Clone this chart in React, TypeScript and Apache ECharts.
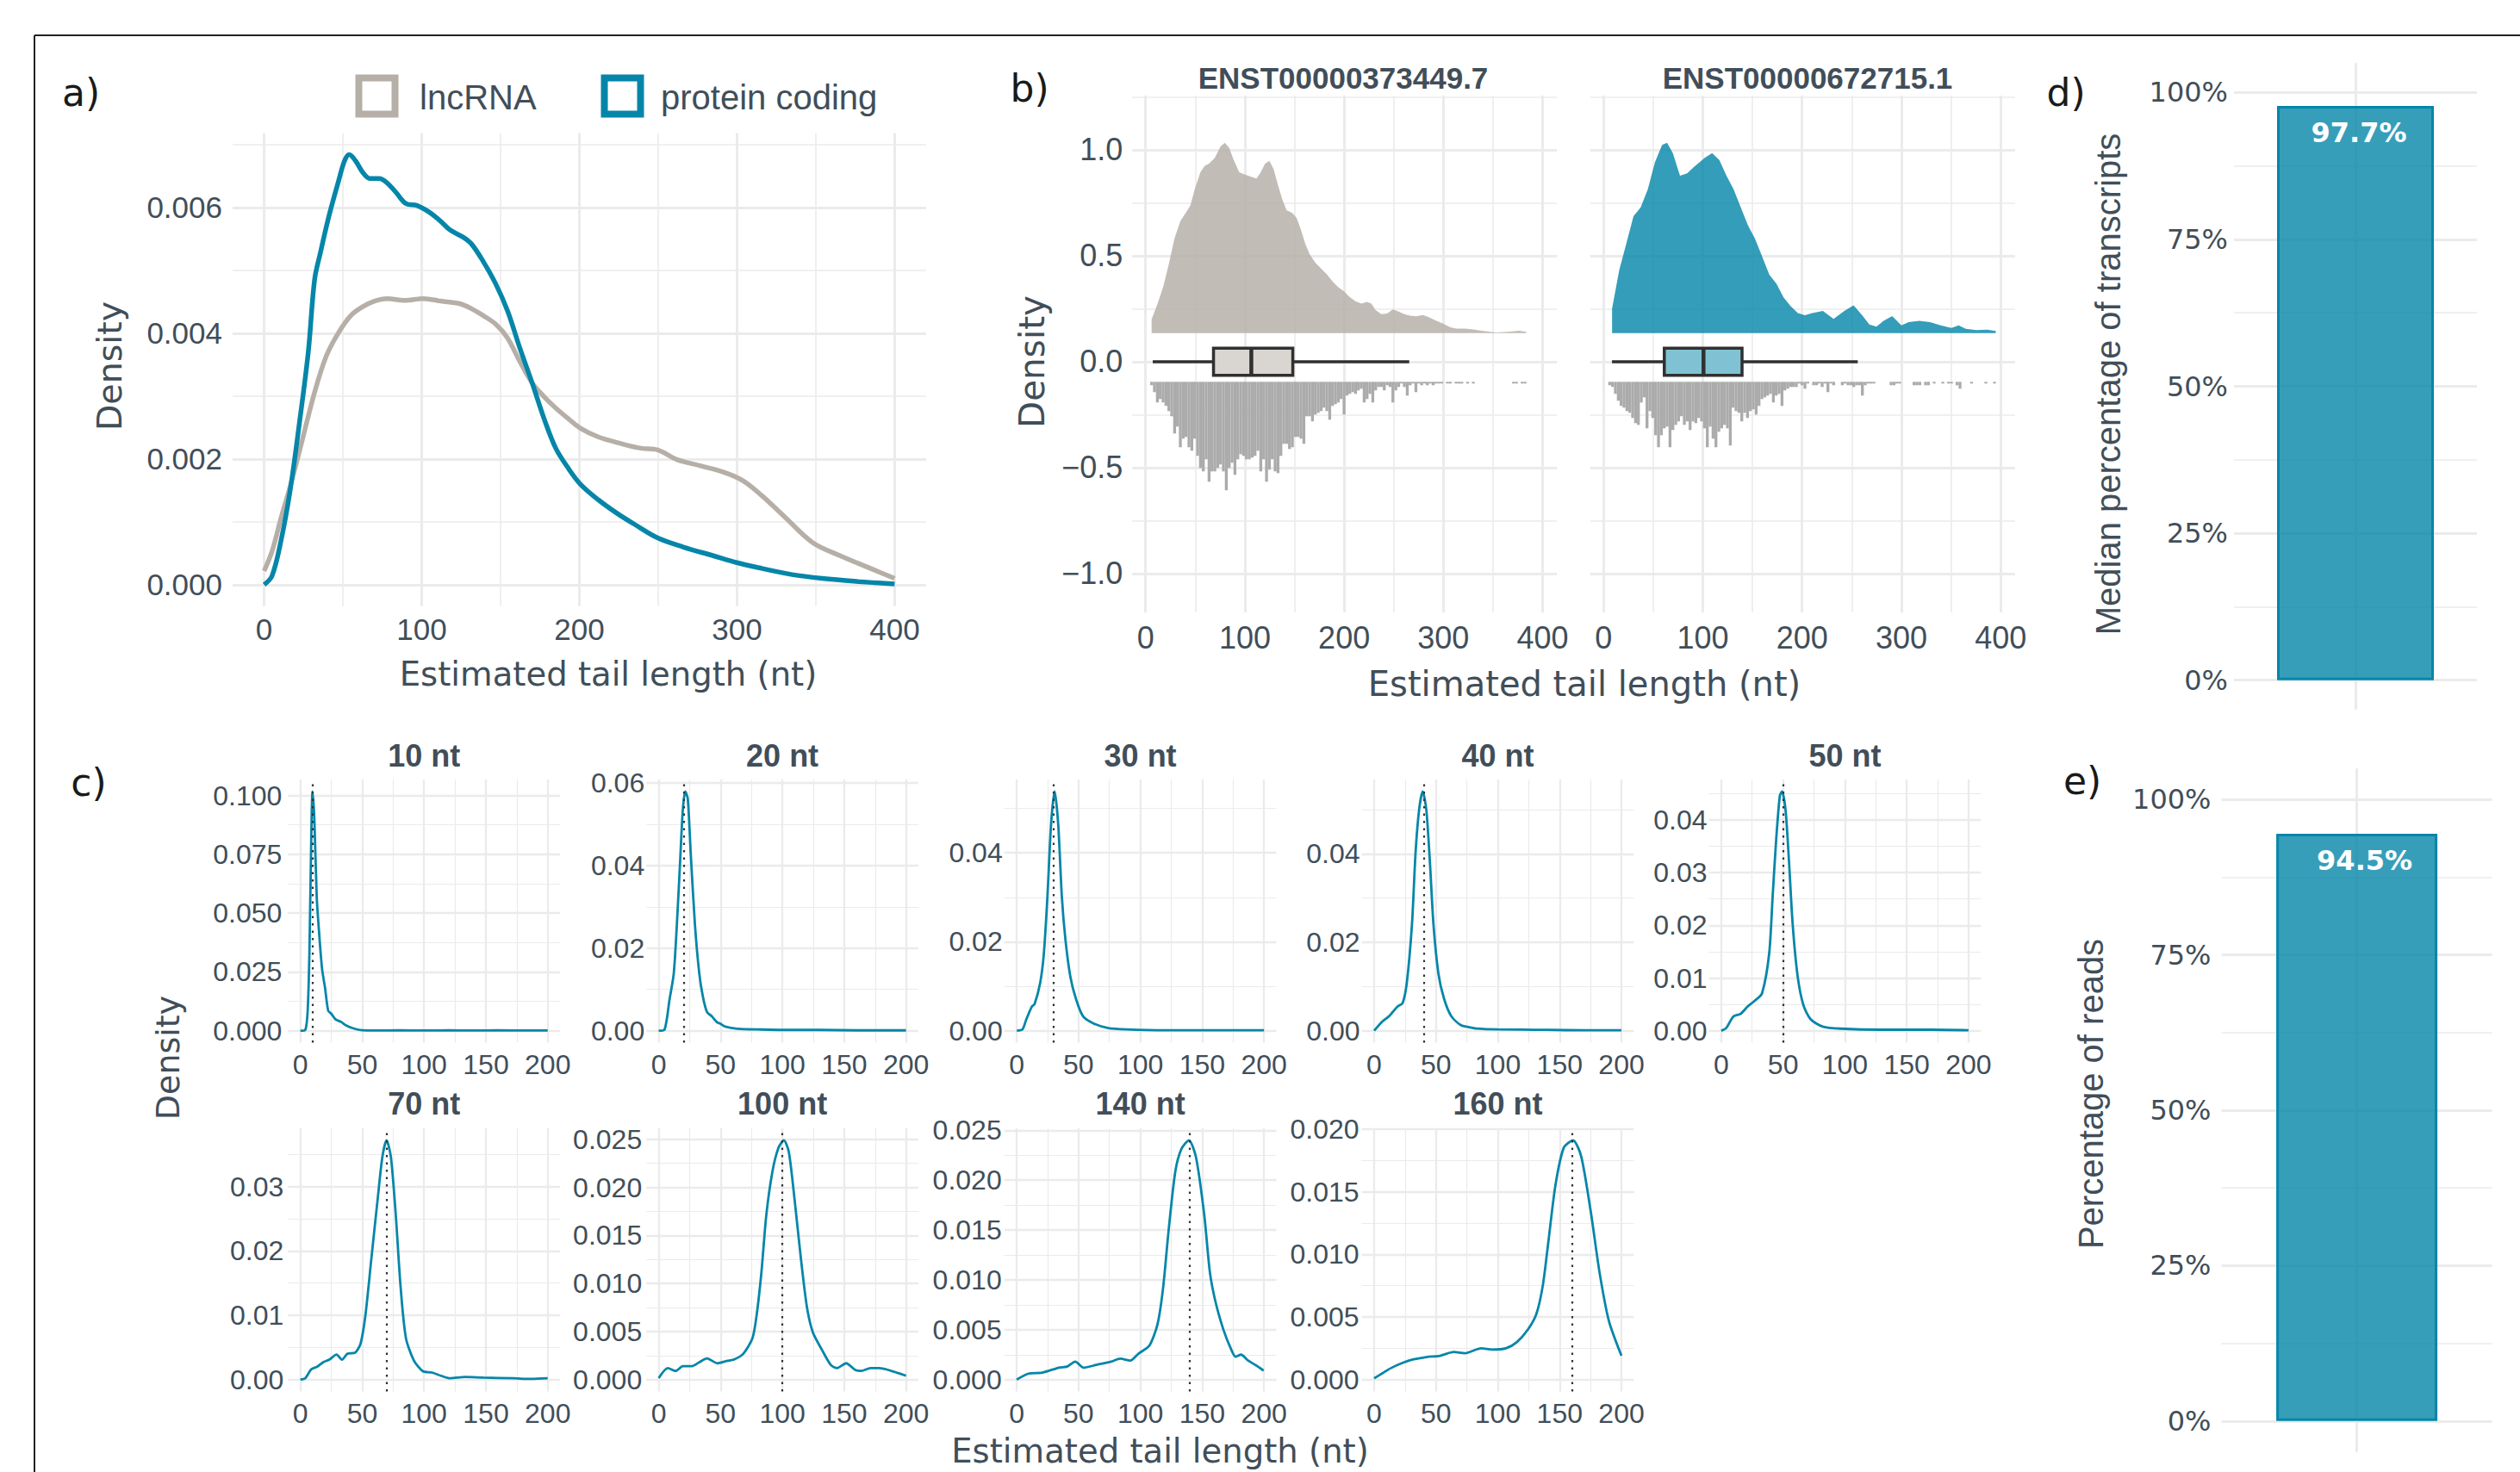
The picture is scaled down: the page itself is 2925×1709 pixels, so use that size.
import React, { useEffect, useRef } from "react";
import * as echarts from "echarts";

type Pt = [number, number];

// ================= Panel a =================
const aXTicks = [0, 100, 200, 300, 400];
const aYTicks = [0, 0.002, 0.004, 0.006];
const aSeriesNames = ["lncRNA", "protein coding"];
const aLncRNA: Pt[] = [
  [0, 0.00022], [5, 0.00053], [10.7, 0.00106], [16.5, 0.00156], [24, 0.00228], [32, 0.00306],
  [39.5, 0.00364], [47, 0.004], [55, 0.00428], [62.5, 0.00442], [70, 0.00451], [78, 0.00455],
  [89, 0.00452], [101, 0.00455], [112, 0.00451], [124, 0.00447], [131.5, 0.00439], [139, 0.00428],
  [147, 0.00414], [154.5, 0.00392], [162, 0.00356], [170, 0.00321], [177.6, 0.00299], [185, 0.00281],
  [193, 0.00264], [200.6, 0.00249], [212, 0.00235], [227, 0.00224], [239, 0.00217], [250, 0.00214],
  [262, 0.00199], [277, 0.00189], [292.6, 0.00178], [304, 0.00165], [315.6, 0.00142], [331, 0.00106],
  [348, 0.00067], [365.5, 0.00046], [384.6, 0.00026], [400, 0.0001],
];
const aProteinCoding: Pt[] = [
  [0, 0], [5, 0.00014], [10.7, 0.0007], [16.5, 0.0015], [22, 0.0025], [28, 0.0037], [32, 0.00485],
  [35.7, 0.00528], [41, 0.00585], [47, 0.0064], [51, 0.00674], [54, 0.00684], [58, 0.00674],
  [62.5, 0.00656], [67, 0.00646], [73, 0.00646], [78, 0.00639], [83.6, 0.00624], [90, 0.00606],
  [97, 0.00603], [105, 0.00592], [112, 0.00578], [118, 0.00564], [126, 0.00553], [131.5, 0.00542],
  [139, 0.00514], [147, 0.00478], [154.5, 0.00435], [162, 0.00378], [170, 0.00321], [177.6, 0.00264],
  [185, 0.00217], [193, 0.00185], [200.6, 0.0016], [212, 0.00135], [223.6, 0.00114], [235, 0.00096],
  [250, 0.00074], [265.8, 0.0006], [285, 0.00046], [300, 0.00035], [315.6, 0.00026], [335, 0.00016],
  [354, 0.0001], [377, 0.00005], [400, 0.00001],
];

// ================= Panel b =================
const bTranscripts = ["ENST00000373449.7", "ENST00000672715.1"];
const bXTicks = [0, 100, 200, 300, 400];
const bYTicks = [-1, -0.5, 0, 0.5, 1];
const bYLimits: Pt = [-1.183, 1.256];
const bBaseline = 0.135;
const bDensityLeft: Pt[] = [
  [6.05, 0.2005], [11.83, 0.271], [17.6, 0.352], [23.4, 0.461], [29.2, 0.583], [35, 0.664], [40.8, 0.705],
  [45.1, 0.738], [49.4, 0.813], [55.2, 0.894], [59.6, 0.925], [63.9, 0.935], [69.7, 0.962], [75.5, 1.016],
  [79.8, 1.033], [84.2, 1.009], [88.5, 0.955], [94.3, 0.894], [100.1, 0.883], [105.9, 0.874], [111.7, 0.865],
  [116, 0.894], [120.3, 0.935], [124.7, 0.948], [129, 0.908], [133.4, 0.833], [137.7, 0.766], [142, 0.715],
  [147.8, 0.702], [152.2, 0.678], [156.5, 0.623], [160.9, 0.556], [165.2, 0.508], [171, 0.467], [176.8, 0.44],
  [182.6, 0.413], [188.3, 0.379], [194.1, 0.352], [199.9, 0.332], [205.7, 0.305], [211.5, 0.285], [217.3, 0.274],
  [223.1, 0.282], [227.4, 0.274], [231.7, 0.244], [237.5, 0.224], [243.3, 0.228], [249.1, 0.247], [254.9, 0.237],
  [260.7, 0.224], [266.5, 0.217], [272.3, 0.214], [279.5, 0.22], [285.3, 0.21], [292.5, 0.194], [299.7, 0.18],
  [307, 0.163], [312.8, 0.156], [321.4, 0.156], [330.1, 0.152], [341.7, 0.144], [353.3, 0.138], [364.8, 0.141],
  [376.4, 0.146], [383.6, 0.141],
];
const bDensityRight: Pt[] = [
  [8.6, 0.251], [15.8, 0.432], [23, 0.559], [30.2, 0.687], [37.4, 0.729], [44.6, 0.814], [51.8, 0.942],
  [59, 1.023], [64, 1.033], [69.8, 0.985], [77, 0.878], [84.2, 0.889], [91.4, 0.921], [102.2, 0.963],
  [109.4, 0.985], [116.6, 0.952], [123.8, 0.878], [131, 0.814], [138.2, 0.729], [145.4, 0.644], [152.6, 0.58],
  [159.8, 0.496], [167, 0.41], [174.2, 0.368], [181.3, 0.304], [188.5, 0.262], [195.7, 0.23], [202.9, 0.219],
  [210.1, 0.23], [220.9, 0.24], [231.7, 0.202], [242.5, 0.24], [251.8, 0.266], [260.5, 0.219], [267.7, 0.176],
  [274.9, 0.166], [282, 0.193], [290.7, 0.215], [300, 0.172], [307.2, 0.187], [318, 0.193], [328.8, 0.187],
  [339.6, 0.172], [350.4, 0.159], [357.6, 0.172], [364.8, 0.155], [375.5, 0.149], [386.4, 0.151], [395, 0.145],
];
// boxplot stats: [lower whisker, Q1, median, Q3, upper whisker]
const bBoxLeft = [7.2, 68.4, 106.5, 148.3, 265.6];
const bBoxRight = [8.5, 61.2, 100.7, 139.5, 256];
// dot plot: number of stacked dots per bin
const bDotsLeftStart = 6.05;
const bDotsLeftBin = 2.894;
const bDotsLeft = [
  2, 6, 12, 10, 12, 14, 17, 20, 30, 26, 38, 33, 32, 38, 40, 33, 43, 50, 52, 45,
  58, 52, 52, 50, 48, 52, 63, 50, 47, 54, 45, 42, 43, 45, 45, 44, 43, 40, 52, 45,
  58, 51, 45, 52, 53, 43, 36, 36, 39, 38, 32, 32, 33, 36, 20, 20, 23, 19, 18, 17,
  15, 17, 22, 14, 13, 12, 10, 19, 8, 7, 6, 7, 5, 4, 12, 10, 7, 12, 5, 3,
  3, 5, 2, 3, 12, 5, 3, 1, 3, 8, 2, 1, 6, 1,
  2, 1, 2, 1, 2, 1, 1, 1, 0, 1, 1, 0, 1, 1, 1, 0, 1, 0, 1, 0,
  0, 0, 0, 0, 0, 0, 0, 0, 0, 0, 0, 0, 1, 1, 0, 1, 1,
];
const bDotsRightStart = 6.2;
const bDotsRightBin = 2.892;
const bDotsRight = [
  2, 3, 7, 11, 14, 15, 17, 18, 21, 24, 25, 12, 9, 27, 17, 21, 31, 38, 31, 27,
  26, 38, 28, 25, 23, 20, 25, 23, 28, 23, 24, 21, 23, 27, 38, 26, 33, 38, 29, 27,
  25, 27, 37, 15, 17, 18, 23, 18, 21, 17, 16, 19, 14, 10, 9, 8, 7, 12, 8, 7,
  14, 5, 4, 3, 3, 3, 1, 2, 4, 1, 0, 2, 2, 1, 3, 1, 6, 1, 2, 0,
  0, 2, 1, 2, 2, 3, 2, 2, 8, 2, 1, 1, 1, 0, 0, 0, 0, 0, 2, 2,
  1, 1, 0, 0, 0, 0, 2, 2, 2, 0, 2, 2, 0, 1, 0, 0, 1, 0, 1, 1,
  0, 2, 4, 0, 0, 0, 1, 0, 0, 0, 0, 1, 0, 0, 1,
];

// ================= Panel c =================
const cFacets = ["10 nt", "20 nt", "30 nt", "40 nt", "50 nt", "70 nt", "100 nt", "140 nt", "160 nt"];
const cNominal = [10, 20, 30, 40, 50, 70, 100, 140, 160];
const cXTicks = [0, 50, 100, 150, 200];
const c10: Pt[] = [
  [0, 0], [3.9, 0.0003], [5.9, 0.0085], [7.3, 0.033], [8.8, 0.082], [9.8, 0.1017], [11.3, 0.09], [13.2, 0.057],
  [15.1, 0.042], [17.5, 0.0265], [20, 0.018], [22.5, 0.0085], [24.9, 0.0073], [28.3, 0.0049], [33.2, 0.0037],
  [36.6, 0.0024], [43, 0.001], [50.2, 0.0002], [60, 0.0001], [80, 0.0002], [100, 0.0001], [120, 0.0002],
  [140, 0.0001], [160, 0.0002], [180, 0.0001], [200, 0.0001],
];
const c20: Pt[] = [
  [0, 0], [4.8, 0.0003], [8.8, 0.0076], [12.2, 0.0139], [14.7, 0.0257], [17.1, 0.0396], [19.5, 0.0534],
  [21.5, 0.0579], [23.5, 0.0562], [25.9, 0.043], [29.3, 0.0257], [32.8, 0.0139], [35.7, 0.0083], [39.1, 0.0045],
  [43, 0.0035], [47, 0.0021], [49.9, 0.0017], [53.8, 0.001], [63.6, 0.0005], [83.1, 0.0003], [100, 0.0002],
  [130, 0.0002], [160, 0.0001], [200, 0.0001],
];
const c30: Pt[] = [
  [0.1, 0], [4.7, 0.0003], [7.6, 0.0024], [12.2, 0.0054], [14.5, 0.006], [19.1, 0.0109], [22, 0.0174],
  [24.9, 0.0303], [27.8, 0.0464], [30.7, 0.0538], [33.6, 0.0464], [36.5, 0.0303], [39.4, 0.0206], [43.4, 0.0122],
  [48, 0.0071], [53.8, 0.0032], [62.5, 0.0016], [74.1, 0.0006], [88.6, 0.0003], [120, 0.0001], [160, 0.0001],
  [200, 0.0001],
];
const c40: Pt[] = [
  [0, 0], [6.3, 0.002], [12.1, 0.0033], [19, 0.0055], [23, 0.0062], [26.5, 0.011], [30.6, 0.024], [33.5, 0.0402],
  [36.4, 0.05], [39.3, 0.0541], [42.2, 0.05], [45.1, 0.0382], [48, 0.024], [52, 0.0129], [56.6, 0.0072],
  [62.4, 0.0033], [69.9, 0.0013], [76.8, 0.0008], [82.6, 0.0005], [100, 0.0003], [140, 0.0002], [170, 0.0001],
  [200, 0.0001],
];
const c50: Pt[] = [
  [0, 0], [4, 0.0005], [9.8, 0.0027], [15.6, 0.0032], [21.4, 0.0046], [27.2, 0.0057], [33, 0.0071],
  [38.8, 0.0147], [41.6, 0.0256], [44.5, 0.0365], [47.4, 0.0446], [49.1, 0.0454], [52, 0.0419], [54.8, 0.0321],
  [57.8, 0.0201], [61.8, 0.0103], [66.4, 0.0049], [72.2, 0.0022], [82, 0.0008], [96.4, 0.0004], [130, 0.0002],
  [170, 0.0002], [200, 0.0001],
];
const c70: Pt[] = [
  [0, 0], [3.9, 0.0002], [8.8, 0.0016], [13.6, 0.002], [18.5, 0.0027], [23.4, 0.0031], [29.2, 0.0039],
  [33.6, 0.0031], [38, 0.004], [44.4, 0.0042], [48.7, 0.0056], [52.6, 0.01], [57.5, 0.019], [62.4, 0.0279],
  [66.3, 0.0346], [69.7, 0.0372], [73.2, 0.0346], [77.1, 0.0257], [81, 0.0145], [85.3, 0.0065], [91.7, 0.003],
  [99, 0.0013], [106.3, 0.0011], [113.6, 0.0006], [121, 0.0002], [133.2, 0.0004], [147.8, 0.0003],
  [172.2, 0.0002], [186.8, 0.0001], [200, 0.0002],
];
const c100: Pt[] = [
  [0, 0.00015], [7.4, 0.0012], [13.7, 0.0009], [19.6, 0.0014], [26.9, 0.0014], [32.8, 0.0018], [39.1, 0.0022],
  [47.4, 0.0017], [53.8, 0.0019], [61.1, 0.0021], [68.5, 0.0027], [75.8, 0.0043], [79.2, 0.0067], [83.1, 0.0112],
  [87, 0.0171], [91.9, 0.0216], [96.8, 0.0241], [101.2, 0.0249], [105.2, 0.0237], [110, 0.0186], [114.9, 0.0127],
  [119.8, 0.0076], [124.7, 0.0049], [132, 0.0031], [139.3, 0.0015], [144.3, 0.0012], [151.6, 0.0017],
  [158.9, 0.001], [163.8, 0.0009], [171.2, 0.0012], [178.5, 0.0012], [185.8, 0.001], [193.1, 0.0007], [200, 0.0004],
];
const c140: Pt[] = [
  [0, 0], [9.7, 0.0006], [20.8, 0.0007], [34.2, 0.0012], [40.8, 0.0013], [47.4, 0.0018], [54.1, 0.0012],
  [65.2, 0.0015], [76.3, 0.0018], [83.8, 0.0021], [91.8, 0.0019], [98.5, 0.0026], [107.3, 0.0034], [114, 0.0056],
  [118.5, 0.0093], [122.9, 0.015], [128.2, 0.0208], [133.1, 0.0231], [139.3, 0.024], [145, 0.0223],
  [151.7, 0.0165], [156.2, 0.0108], [160.6, 0.0079], [167.2, 0.005], [173.9, 0.0029], [177, 0.0023],
  [181.4, 0.0025], [187.2, 0.0019], [193.9, 0.0014], [199.7, 0.0009],
];
const c160: Pt[] = [
  [0, 0.0001], [6.6, 0.0005], [13.3, 0.0009], [22.2, 0.0013], [31.1, 0.0016], [42.2, 0.0018], [53.3, 0.0019],
  [64.4, 0.0022], [73.3, 0.0021], [86.6, 0.0025], [95.5, 0.0024], [106.6, 0.0025], [115.5, 0.003], [124.4, 0.004],
  [131.1, 0.0052], [136.4, 0.0075], [140.9, 0.011], [146.6, 0.0155], [153.3, 0.0185], [160.8, 0.0191],
  [167.5, 0.0178], [175.5, 0.0132], [182.2, 0.0086], [189.8, 0.0047], [200, 0.0019],
];
const cCurves = [c10, c20, c30, c40, c50, c70, c100, c140, c160];
const cYTicks = [
  [0, 0.025, 0.05, 0.075, 0.1],
  [0, 0.02, 0.04, 0.06],
  [0, 0.02, 0.04],
  [0, 0.02, 0.04],
  [0, 0.01, 0.02, 0.03, 0.04],
  [0, 0.01, 0.02, 0.03],
  [0, 0.005, 0.01, 0.015, 0.02, 0.025],
  [0, 0.005, 0.01, 0.015, 0.02, 0.025],
  [0, 0.005, 0.01, 0.015, 0.02],
];
const cYDecimals = [3, 2, 2, 2, 2, 2, 3, 3, 3];

// ================= Panels d, e =================
const dValue = 97.7;
const eValue = 94.5;
const pctTicks = [0, 25, 50, 75, 100];

// ================= Styling / layout =================
const TXT = "#414e59";
const GRIDC = "#ebebeb";
const BLUE = "#0586a9";
const GREY = "#b6afa8";
const SANS = "Liberation Sans";
const WIDE = "DejaVu Sans";

const LAY = {
  a: [270, 154.5, 805, 549.3],
  bL: [1314.3, 111, 492.9, 600],
  bR: [1845.8, 111, 493.1, 600],
  cCols: [334.3, 750.2, 1165.7, 1580.6, 1983.5],
  cW: 315.8,
  cRows: [905, 1310],
  cH: 305.6,
  cLabelMargin: [7, 2, 2, 2, 2, 5, 5, 3, 3],
  d: [2593, 73.2, 282, 750.6],
  e: [2578.5, 892.2, 314.2, 793.7],
};

function expand(lo: number, hi: number): Pt {
  const d = hi - lo;
  return [lo - 0.05 * d, hi + 0.05 * d];
}
function minorsOf(m: number[]): number[] {
  const out: number[] = [];
  for (let i = 0; i < m.length - 1; i++) out.push((m[i] + m[i + 1]) / 2);
  if (m.length > 1) {
    const st = m[1] - m[0];
    out.push(m[0] - st / 2, m[m.length - 1] + st / 2);
  }
  return out;
}

function buildOption() {
  const grids: any[] = [];
  const xAxis: any[] = [];
  const yAxis: any[] = [];
  const series: any[] = [];
  const elements: any[] = [];

  const mainAxis = (g: number, range: Pt, ticks: number[], lab: any, w: number) => ({
    type: "value",
    gridIndex: g,
    min: range[0],
    max: range[1],
    axisLine: { show: false, onZero: false },
    axisTick: { show: false, customValues: ticks },
    axisLabel: lab
      ? {
          show: true,
          customValues: ticks,
          formatter: lab.fmt,
          color: TXT,
          fontFamily: lab.font || SANS,
          fontSize: lab.size,
          margin: lab.margin,
        }
      : { show: false },
    splitLine: { show: ticks.length > 0, lineStyle: { color: GRIDC, width: w } },
  });
  const minorAxis = (g: number, range: Pt, ticks: number[], w: number) => ({
    type: "value",
    gridIndex: g,
    min: range[0],
    max: range[1],
    axisLine: { show: false, onZero: false },
    axisTick: { show: false, customValues: ticks.length ? ticks : [range[0]] },
    axisLabel: { show: false },
    splitLine: { show: ticks.length > 0, lineStyle: { color: GRIDC, width: w } },
  });

  const addPanel = (
    rect: number[], xr: Pt, yr: Pt, xMaj: number[], yMaj: number[], xMin: number[], yMin: number[],
    xLab: any, yLab: any, majW: number, minW: number
  ) => {
    const g = grids.length;
    grids.push({ left: rect[0], top: rect[1], width: rect[2], height: rect[3], containLabel: false, outerBoundsMode: "none" });
    const xi = xAxis.length;
    xAxis.push(mainAxis(g, xr, xMaj, xLab, majW));
    xAxis.push(minorAxis(g, xr, xMin, minW));
    const yi = yAxis.length;
    yAxis.push(mainAxis(g, yr, yMaj, yLab, majW));
    yAxis.push(minorAxis(g, yr, yMin, minW));
    return { xi, yi };
  };

  const txt = (text: string, x: number, y: number, o: any = {}) => ({
    type: "text",
    x,
    y,
    rotation: o.rot || 0,
    silent: true,
    z: 10,
    style: {
      text,
      fill: o.color || TXT,
      fontSize: o.size,
      fontFamily: o.font || SANS,
      fontWeight: o.weight || "normal",
      align: o.align || "center",
      verticalAlign: "middle",
    },
  });

  // ---------- Panel a ----------
  const aMax = Math.max(...aLncRNA.map((p) => p[1]), ...aProteinCoding.map((p) => p[1]));
  const aAx = addPanel(
    LAY.a, expand(0, 400), expand(0, aMax), aXTicks, aYTicks, minorsOf(aXTicks), minorsOf(aYTicks),
    { fmt: (v: number) => String(v), size: 35, margin: 9 },
    { fmt: (v: number) => v.toFixed(3), size: 35, margin: 12 },
    3, 1.6
  );
  series.push({
    type: "line", name: aSeriesNames[0], xAxisIndex: aAx.xi, yAxisIndex: aAx.yi, data: aLncRNA,
    symbol: "none", smooth: 0.35, lineStyle: { color: GREY, width: 5.5 }, z: 3,
  });
  series.push({
    type: "line", name: aSeriesNames[1], xAxisIndex: aAx.xi, yAxisIndex: aAx.yi, data: aProteinCoding,
    symbol: "none", smooth: 0.35, lineStyle: { color: BLUE, width: 5.5 }, z: 4,
  });
  // legend
  elements.push({ type: "rect", shape: { x: 416.5, y: 90.5, width: 42, height: 42 }, style: { fill: "#fff", stroke: GREY, lineWidth: 8 } });
  elements.push(txt(aSeriesNames[0], 487, 113, { size: 40, align: "left" }));
  elements.push({ type: "rect", shape: { x: 701.5, y: 90.5, width: 42, height: 42 }, style: { fill: "#fff", stroke: BLUE, lineWidth: 8 } });
  elements.push(txt(aSeriesNames[1], 767, 113, { size: 40, align: "left" }));
  elements.push(txt("Estimated tail length (nt)", 706, 782, { size: 38.6, font: WIDE }));
  elements.push(txt("Density", 127, 425, { size: 39.5, font: WIDE, rot: Math.PI / 2 }));

  // ---------- Panel b ----------
  const bAllX = [...bDensityLeft, ...bDensityRight].map((p) => p[0]);
  const bXr = expand(Math.min(...bAllX), Math.max(...bAllX));
  const bFacets = [
    { rect: LAY.bL, dens: bDensityLeft, fill: "rgba(182,175,168,0.83)", box: bBoxLeft, boxFill: "#d9d6d2",
      dots: bDotsLeft, dStart: bDotsLeftStart, dBin: bDotsLeftBin, ylab: true },
    { rect: LAY.bR, dens: bDensityRight, fill: "rgba(5,134,169,0.81)", box: bBoxRight, boxFill: "#80c2d4",
      dots: bDotsRight, dStart: bDotsRightStart, dBin: bDotsRightBin, ylab: false },
  ];
  const dotTop = -0.0947;
  const dotH = 0.00813;
  const bTitleX = [1559, 2098];
  bFacets.forEach((f, k) => {
    const ax = addPanel(
      f.rect, bXr, bYLimits, bXTicks, bYTicks, minorsOf(bXTicks), minorsOf(bYTicks),
      { fmt: (v: number) => String(v), size: 36, margin: 11 },
      f.ylab
        ? { fmt: (v: number) => (v < 0 ? "\u2212" : "") + Math.abs(v).toFixed(1), size: 36, margin: 11 }
        : null,
      3, 1.6
    );
    const dens = f.dens;
    series.push({
      type: "custom", xAxisIndex: ax.xi, yAxisIndex: ax.yi, silent: true, z: 2,
      data: [[dens[0][0], bBaseline]],
      renderItem: (_p: any, api: any) => {
        const pts = dens.map((p) => api.coord(p));
        pts.push(api.coord([dens[dens.length - 1][0], bBaseline]));
        pts.push(api.coord([dens[0][0], bBaseline]));
        return { type: "polygon", shape: { points: pts }, style: { fill: f.fill } };
      },
    });
    const bx = f.box;
    series.push({
      type: "custom", xAxisIndex: ax.xi, yAxisIndex: ax.yi, silent: true, z: 3,
      data: [[bx[2], 0]],
      renderItem: (_p: any, api: any) => {
        const h = 0.064;
        const lo = api.coord([bx[0], 0]);
        const q1 = api.coord([bx[1], 0]);
        const q3 = api.coord([bx[3], 0]);
        const hi = api.coord([bx[4], 0]);
        const tl = api.coord([bx[1], h]);
        const br = api.coord([bx[3], -h]);
        const mt = api.coord([bx[2], h]);
        const mb = api.coord([bx[2], -h]);
        const st = { stroke: "#303030", lineWidth: 3.5 };
        return {
          type: "group",
          children: [
            { type: "line", shape: { x1: lo[0], y1: lo[1], x2: q1[0], y2: q1[1] }, style: st },
            { type: "line", shape: { x1: q3[0], y1: q3[1], x2: hi[0], y2: hi[1] }, style: st },
            { type: "rect", shape: { x: tl[0], y: tl[1], width: br[0] - tl[0], height: br[1] - tl[1] }, style: { fill: f.boxFill, ...st } },
            { type: "line", shape: { x1: mt[0], y1: mt[1], x2: mb[0], y2: mb[1] }, style: { stroke: "#303030", lineWidth: 4.5 } },
          ],
        };
      },
    });
    const dotData = f.dots
      .map((n, i) => [f.dStart + i * f.dBin, n])
      .filter((d) => d[1] > 0);
    const bin = f.dBin;
    series.push({
      type: "custom", xAxisIndex: ax.xi, yAxisIndex: ax.yi, silent: true, z: 2,
      data: dotData,
      renderItem: (_p: any, api: any) => {
        const x = api.value(0);
        const n = api.value(1);
        const p1 = api.coord([x - bin / 2, dotTop]);
        const p2 = api.coord([x + bin / 2, dotTop - n * dotH]);
        return {
          type: "rect",
          shape: { x: p1[0], y: p1[1], width: p2[0] - p1[0], height: p2[1] - p1[1] },
          style: { fill: "#ababab" },
        };
      },
    });
    elements.push(txt(bTranscripts[k], bTitleX[k], 90, { size: 35, weight: "bold" }));
  });
  elements.push(txt("Estimated tail length (nt)", 1839, 794, { size: 40, font: WIDE }));
  elements.push(txt("Density", 1198, 420, { size: 40.5, font: WIDE, rot: Math.PI / 2 }));

  // ---------- Panel c ----------
  cCurves.forEach((curve, k) => {
    const row = k < 5 ? 0 : 1;
    const col = k < 5 ? k : k - 5;
    const rect = [LAY.cCols[col], LAY.cRows[row], LAY.cW, LAY.cH];
    const yMax = Math.max(...curve.map((p) => p[1]));
    const dec = cYDecimals[k];
    const ax = addPanel(
      rect, expand(0, 200), expand(0, yMax), cXTicks, cYTicks[k], minorsOf(cXTicks), minorsOf(cYTicks[k]),
      { fmt: (v: number) => String(v), size: 32, margin: 9 },
      { fmt: (v: number) => v.toFixed(dec), size: 32, margin: LAY.cLabelMargin[k] },
      2.3, 1.2
    );
    series.push({
      type: "line", name: cFacets[k], xAxisIndex: ax.xi, yAxisIndex: ax.yi, data: curve,
      symbol: "none", smooth: 0.25, lineStyle: { color: BLUE, width: 2.8 }, z: 4,
      markLine: {
        silent: true, symbol: ["none", "none"], label: { show: false },
        lineStyle: { color: "#333", type: [2.5, 6], width: 2.2 },
        data: [{ xAxis: cNominal[k] }],
      },
    });
    elements.push(txt(cFacets[k], rect[0] + rect[2] / 2, row === 0 ? 877.5 : 1281, { size: 36, weight: "bold" }));
  });
  elements.push(txt("Density", 195, 1228, { size: 38, font: WIDE, rot: Math.PI / 2 }));
  elements.push(txt("Estimated tail length (nt)", 1346.5, 1684, { size: 38.6, font: WIDE }));

  // ---------- Panels d, e ----------
  const bars = [
    { rect: LAY.d, value: dValue, width: 182, margin: 7, off: [4, 0], title: "Median percentage of transcripts", tx: 2447, ty: 446 },
    { rect: LAY.e, value: eValue, width: 187, margin: 12, off: [9, 0], title: "Percentage of reads", tx: 2427, ty: 1270 },
  ];
  bars.forEach((b) => {
    const ax = addPanel(
      b.rect, [0.4, 1.6], expand(0, 100), [1], pctTicks, [], minorsOf(pctTicks),
      null,
      { fmt: (v: number) => v + "%", size: 32, margin: b.margin, font: WIDE },
      3, 1.6
    );
    series.push({
      type: "bar", xAxisIndex: ax.xi, yAxisIndex: ax.yi, data: [[1, b.value]], barWidth: b.width, z: 3,
      itemStyle: { color: "rgba(5,134,169,0.8)", borderColor: BLUE, borderWidth: 3 },
      label: {
        show: true, position: "insideTop", distance: 15, offset: b.off,
        formatter: (p: any) => p.value[1].toFixed(1) + "%",
        color: "#fff", fontFamily: WIDE, fontWeight: "bold", fontSize: 32,
      },
    });
    elements.push(txt(b.title, b.tx, b.ty, { size: 40, rot: Math.PI / 2 }));
  });

  // ---------- panel letters and frame ----------
  const letters: [string, number, number][] = [
    ["a)", 94, 107], ["b)", 1195, 102], ["c)", 103, 908], ["d)", 2398, 107], ["e)", 2417, 906],
  ];
  letters.forEach(([t, x, y]) => elements.push(txt(t, x, y, { size: 44, font: WIDE, color: "#1a1a1a" })));
  elements.push({ type: "line", shape: { x1: 40, y1: 41, x2: 2925, y2: 41 }, style: { stroke: "#222", lineWidth: 2 } });
  elements.push({ type: "line", shape: { x1: 40, y1: 41, x2: 40, y2: 1709 }, style: { stroke: "#222", lineWidth: 2 } });

  return {
    animation: false,
    backgroundColor: "#ffffff",
    grid: grids,
    xAxis,
    yAxis,
    series,
    graphic: { elements },
  };
}

export default function App() {
  const ref = useRef<HTMLDivElement>(null);
  useEffect(() => {
    if (!ref.current) return;
    const chart = echarts.init(ref.current, undefined, { renderer: "svg" });
    chart.setOption(buildOption() as any);
    return () => chart.dispose();
  }, []);
  return (
    <div
      ref={ref}
      style={{ position: "absolute", left: 0, top: 0, width: 2925, height: 1709, background: "#fff" }}
    />
  );
}
